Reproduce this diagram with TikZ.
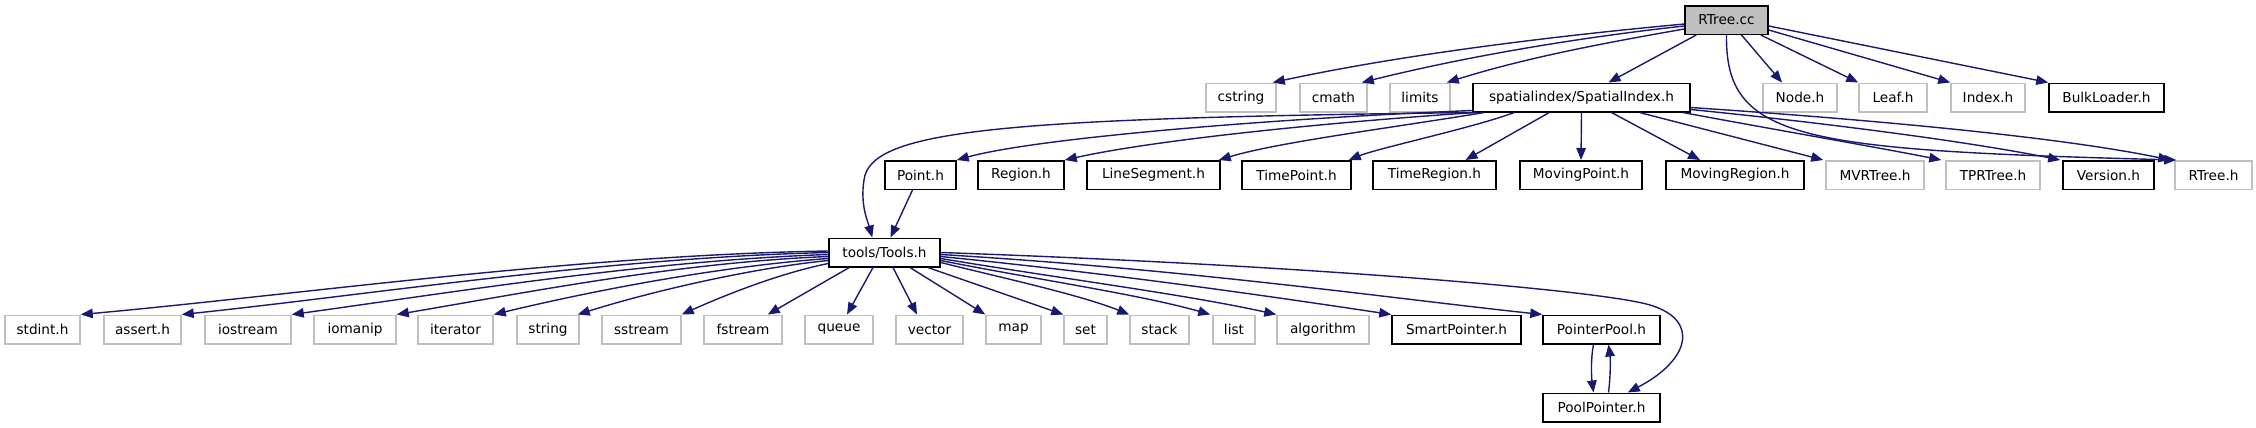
\documentclass[tikz,border=0pt]{standalone}
\usepackage{fontspec}
\setmainfont{DejaVu Sans}
\usetikzlibrary{arrows.meta,calc}
\definecolor{edgeblue}{HTML}{191970}
\definecolor{graybd}{HTML}{BFBFBF}
\tikzset{
  doc/.style={draw=black, line width=1.5bp, fill=white, inner sep=0pt, minimum height=28.5bp, font=\fontsize{13.7}{16}\selectfont},
  undoc/.style={doc, draw=graybd},
  edge/.style={draw=edgeblue, line width=1.4bp, -{Triangle[length=12bp,width=9.5bp]}},
}
\begin{document}
\begin{tikzpicture}[x=1bp,y=-1bp]
\useasboundingbox (0,0) rectangle (2256,427);
% row 1
\node[doc, fill=graybd, minimum width=83bp] (rtreecc) at (1726.5,20) {RTree.cc};
% row 2
\node[undoc, minimum width=70bp] (cstring) at (1241,97.5) {cstring};
\node[undoc, minimum width=67bp] (cmath) at (1333.5,97.5) {cmath};
\node[undoc, minimum width=60bp] (limits) at (1420,97.5) {limits};
\node[doc, minimum width=217bp] (si) at (1581.5,97.5) {spatialindex/SpatialIndex.h};
\node[undoc, minimum width=74bp] (nodeh) at (1800,97.5) {Node.h};
\node[undoc, minimum width=68bp] (leafh) at (1893,97.5) {Leaf.h};
\node[undoc, minimum width=74bp] (indexh) at (1988,97.5) {Index.h};
\node[doc, minimum width=115bp] (bulk) at (2106.5,97.5) {BulkLoader.h};
% row 3
\node[doc, minimum width=71bp] (pointh) at (920.5,175) {Point.h};
\node[doc, minimum width=86bp] (regionh) at (1021,175) {Region.h};
\node[doc, minimum width=133bp] (lineseg) at (1153.5,175) {LineSegment.h};
\node[doc, minimum width=109bp] (timepoint) at (1296.5,175) {TimePoint.h};
\node[doc, minimum width=123bp] (timeregion) at (1434.5,175) {TimeRegion.h};
\node[doc, minimum width=122bp] (movingpoint) at (1581,175) {MovingPoint.h};
\node[doc, minimum width=138bp] (movingregion) at (1735,175) {MovingRegion.h};
\node[undoc, minimum width=98bp] (mvrtree) at (1875,175) {MVRTree.h};
\node[undoc, minimum width=94bp] (tprtree) at (1993,175) {TPRTree.h};
\node[doc, minimum width=91bp] (version) at (2108.5,175) {Version.h};
\node[undoc, minimum width=77bp] (rtreeh) at (2213.5,175) {RTree.h};
% row 4
\node[doc, minimum width=111bp] (tools) at (884.5,252.5) {tools/Tools.h};
% row 5
\node[undoc, minimum width=75bp] (stdint) at (42.5,329.5) {stdint.h};
\node[undoc, minimum width=77bp] (assert) at (142.5,329.5) {assert.h};
\node[undoc, minimum width=86bp] (iostream) at (248,329.5) {iostream};
\node[undoc, minimum width=82bp] (iomanip) at (355,329.5) {iomanip};
\node[undoc, minimum width=75bp] (iterator) at (455.5,329.5) {iterator};
\node[undoc, minimum width=62bp] (string) at (548,329.5) {string};
\node[undoc, minimum width=79bp] (sstream) at (641.5,329.5) {sstream};
\node[undoc, minimum width=78bp] (fstream) at (743,329.5) {fstream};
\node[undoc, minimum width=68bp] (queue) at (839,329.5) {queue};
\node[undoc, minimum width=67bp] (vector) at (929.5,329.5) {vector};
\node[undoc, minimum width=55bp] (map) at (1013.5,329.5) {map};
\node[undoc, minimum width=43bp] (set) at (1085.5,329.5) {set};
\node[undoc, minimum width=59bp] (stack) at (1159.5,329.5) {stack};
\node[undoc, minimum width=42bp] (list) at (1234,329.5) {list};
\node[undoc, minimum width=92bp] (algorithm) at (1323,329.5) {algorithm};
\node[doc, minimum width=129bp] (smart) at (1456.5,329.5) {SmartPointer.h};
\node[doc, minimum width=117bp] (pointerpool) at (1601.5,329.5) {PointerPool.h};
% row 6
\node[doc, minimum width=117bp] (poolpointer) at (1601.5,407.5) {PoolPointer.h};

% RTree.cc edges
\draw[edge] ($(rtreecc.west)+(0,4)$) .. controls +(-130,12) and +(130,-28) .. ($(cstring.north east)+(-4,0)$);
\draw[edge] ($(rtreecc.west)+(0,6)$) .. controls +(-110,12) and +(100,-25) .. ($(cmath.north east)+(-6,0)$);
\draw[edge] ($(rtreecc.west)+(0,9)$) .. controls +(-80,14) and +(80,-25) .. ($(limits.north east)+(-4,0)$);
\draw[edge] ($(rtreecc.south west)+(12,0)$) -- ($(si.north)+(27,0)$);
\draw[edge] ($(rtreecc.south)+(15,0)$) -- ($(nodeh.north)+(-18,0)$);
\draw[edge] ($(rtreecc.south east)+(-8,0)$) -- (leafh.north west);
\draw[edge] ($(rtreecc.east)+(0,10)$) -- (indexh.north west);
\draw[edge] ($(rtreecc.east)+(0,6)$) -- (bulk.north west);
\draw[edge] (rtreecc.south) .. controls (1725,140) and (1800,150) .. ($(rtreeh.north west)+(2,0)$);

% SpatialIndex.h edges
\draw[edge] ($(si.south west)+(5,0)$) .. controls (1000,118) and (870,130) .. (864,180) .. controls (860,205) and (868,222) .. ($(tools.north west)+(44,0)$);
\draw[edge] ($(si.south west)+(0,-2)$) .. controls +(-200,8) and +(80,-22) .. (pointh.north east);
\draw[edge] ($(si.south west)+(3,0)$) .. controls +(-150,10) and +(90,-20) .. (regionh.north east);
\draw[edge] ($(si.south west)+(12,0)$) .. controls +(-90,15) and +(60,-18) .. ($(lineseg.north east)+(-2,0)$);
\draw[edge] ($(si.south west)+(42,0)$) .. controls +(-40,15) and +(30,-12) .. ($(timepoint.north east)+(-3,0)$);
\draw[edge] ($(si.south west)+(77,0)$) -- ($(timeregion.north)+(31,0)$);
\draw[edge] (si.south) -- (movingpoint.north);
\draw[edge] ($(si.south)+(30,0)$) -- ($(movingregion.north)+(-35,0)$);
\draw[edge] ($(si.south)+(58,0)$) -- ($(mvrtree.north west)+(-2,0)$);
\draw[edge] ($(si.south east)+(-8,0)$) .. controls +(80,15) and +(-60,-12) .. ($(tprtree.north west)+(-4,0)$);
\draw[edge] ($(si.south east)+(0,-3)$) .. controls +(120,12) and +(-100,-20) .. ($(version.north west)+(-2,0)$);
\draw[edge] ($(si.south east)+(0,-5)$) .. controls +(150,10) and +(-120,-25) .. ($(rtreeh.north west)+(-4,0)$);

% Point.h -> tools
\draw[edge] ($(pointh.south)+(-8,0)$) -- ($(tools.north)+(6,0)$);

% tools edges
\draw[edge] ($(tools.west)+(0,-1.5)$) .. controls +(-250,4) and +(220,-20) .. (stdint.north east);
\draw[edge] ($(tools.west)+(0,0)$) .. controls +(-220,5) and +(190,-20) .. (assert.north east);
\draw[edge] ($(tools.west)+(0,2)$) .. controls +(-180,6) and +(160,-22) .. (iostream.north east);
\draw[edge] ($(tools.west)+(0,4)$) .. controls +(-150,6) and +(130,-22) .. (iomanip.north east);
\draw[edge] ($(tools.west)+(0,6)$) .. controls +(-110,8) and +(100,-24) .. (iterator.north east);
\draw[edge] ($(tools.west)+(0,8)$) .. controls +(-80,8) and +(70,-22) .. ($(string.north east)+(-2,0)$);
\draw[edge] ($(tools.west)+(0,11)$) .. controls +(-50,10) and +(40,-18) .. (sstream.north east);
\draw[edge] ($(tools.south west)+(21,0)$) -- ($(fstream.north east)+(-15,0)$);
\draw[edge] ($(tools.south)+(-11.5,0)$) -- ($(queue.north)+(8,0)$);
\draw[edge] ($(tools.south)+(8.5,0)$) -- ($(vector.north)+(-12.5,0)$);
\draw[edge] ($(tools.south)+(25.5,0)$) -- (map.north west);
\draw[edge] ($(tools.south east)+(-13,0)$) -- (set.north west);
\draw[edge] ($(tools.east)+(0,10)$) .. controls +(60,15) and +(-50,-20) .. (stack.north west);
\draw[edge] ($(tools.east)+(0,8)$) .. controls +(90,18) and +(-70,-20) .. ($(list.north west)+(-2,0)$);
\draw[edge] ($(tools.east)+(0,6)$) .. controls +(120,20) and +(-90,-20) .. (algorithm.north west);
\draw[edge] ($(tools.east)+(0,4)$) .. controls +(180,18) and +(-120,-18) .. (smart.north west);
\draw[edge] ($(tools.east)+(0,2)$) .. controls +(250,15) and +(-150,-16) .. (pointerpool.north west);
\draw[edge] (tools.east) .. controls (1300,265) and (1600,290) .. (1650,305) .. controls (1700,320) and (1690,360) .. ($(poolpointer.north east)+(-33,0)$);

% PointerPool <-> PoolPointer
\draw[edge] ($(pointerpool.south)+(-8,0)$) .. controls +(-3,15) and +(-2,-15) .. ($(poolpointer.north)+(-8,0)$);
\draw[edge] ($(poolpointer.north)+(7,0)$) .. controls +(2,-15) and +(2,15) .. ($(pointerpool.south)+(7,0)$);
\end{tikzpicture}
\end{document}
